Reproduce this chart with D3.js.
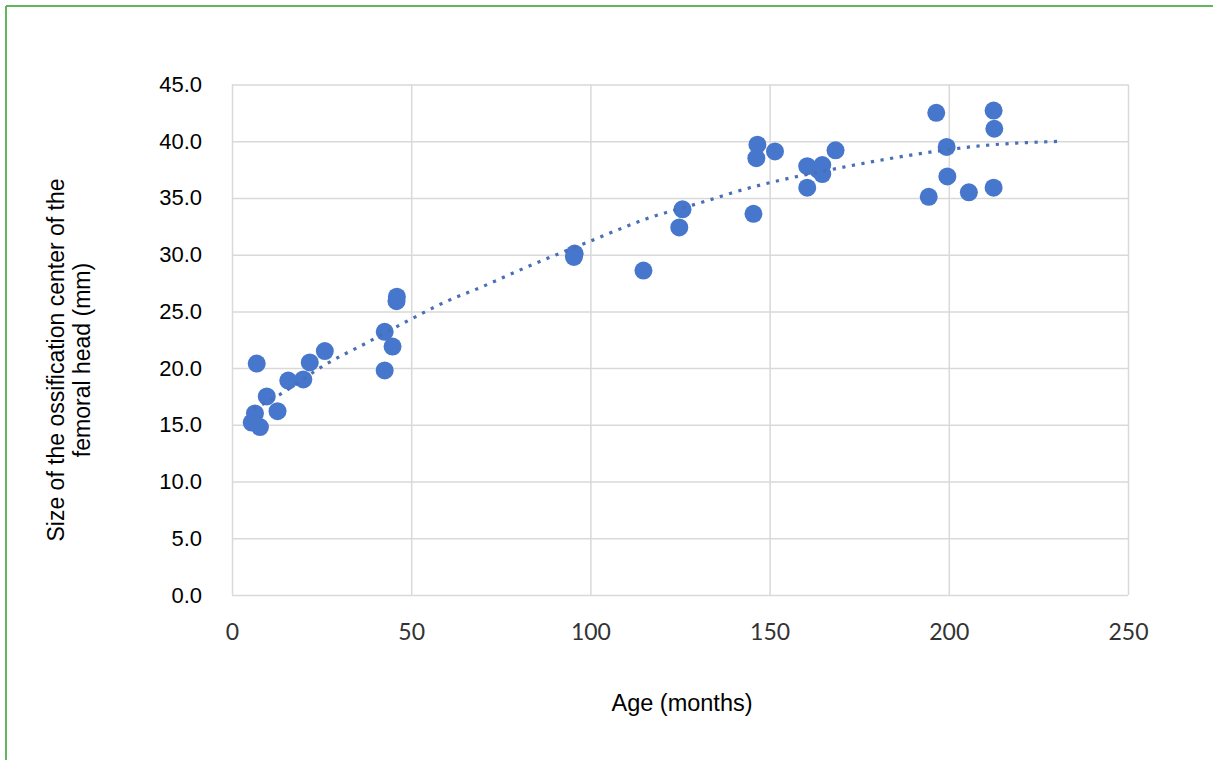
<!DOCTYPE html>
<html>
<head>
<meta charset="utf-8">
<script src="https://cdn.jsdelivr.net/npm/d3@7"></script>
<style>
  body { margin: 0; background: #fff; }
  svg { display: block; }
</style>
</head>
<body>
<div id="chart"></div>
<script>
// age in months / size of ossification center (mm)
var ageMonths = [5.5, 7.8, 6.4, 6.9, 9.7, 12.7, 15.7, 19.9, 21.7, 25.9,
    42.6, 44.8, 42.6, 45.9, 46.0, 95.4, 95.6, 114.8, 124.8, 125.7,
    145.5, 146.6, 146.3, 151.5, 160.5, 164.7, 164.7, 163.5, 160.5, 168.4,
    194.4, 196.5, 199.4, 199.6, 205.6, 212.5, 212.7, 212.5];
var sizeMm = [15.2, 14.8, 16.0, 20.4, 17.5, 16.2, 18.9, 19.0, 20.5, 21.5,
    23.2, 21.9, 19.8, 25.9, 26.3, 29.8, 30.1, 28.6, 32.4, 34.0,
    33.6, 39.7, 38.5, 39.1, 37.8, 37.9, 37.1, 37.5, 35.9, 39.2,
    35.1, 42.5, 39.5, 36.9, 35.5, 42.7, 41.1, 35.9];

// trendline
var trendX = [6, 13, 26, 38, 48, 60, 70, 80, 89, 100, 116, 132, 139, 172, 177, 194, 209, 232];
var trendY = [16.4, 17.6, 20.3, 22.3, 24.0, 25.9, 27.2, 28.6, 29.8, 31.2, 33.2, 34.7, 35.4, 37.8, 38.1, 39.0, 39.6, 40.0];

var xTicks = [0, 50, 100, 150, 200, 250];
var yTicks = [0, 5, 10, 15, 20, 25, 30, 35, 40, 45];

var width = 1213, height = 760;
var margin = {left: 232, top: 84.5, right: 85, bottom: 165};

var svg = d3.select('#chart')
    .append('svg')
    .attr('width', width)
    .attr('height', height);

// green frame (only top and left show)
svg.append('line')
    .attr('x1', 6).attr('y1', 6).attr('x2', width).attr('y2', 6)
    .attr('stroke', '#62b65a').attr('stroke-width', 2);
svg.append('line')
    .attr('x1', 6).attr('y1', 6).attr('x2', 6).attr('y2', height)
    .attr('stroke', '#62b65a').attr('stroke-width', 2);

var x = d3.scaleLinear()
    .domain([0, 250])
    .range([margin.left, width - margin.right]);
var y = d3.scaleLinear()
    .domain([0, 45])
    .range([height - margin.bottom, margin.top]);

var pw = x(250) - x(0), ph = y(0) - y(45);

// gridlines
var gx = svg.append('g')
    .attr('transform', `translate(0,${y(0)})`)
    .call(d3.axisBottom(x).tickValues(xTicks).tickSize(-ph).tickFormat(''));
var gy = svg.append('g')
    .attr('transform', `translate(${x(0)},0)`)
    .call(d3.axisLeft(y).tickValues(yTicks).tickSize(-pw).tickFormat(''));
[gx, gy].forEach(function (g) {
    g.select('.domain').remove();
    g.selectAll('.tick line').attr('stroke', '#d9d9d9').attr('stroke-width', 1.5);
});

// tick labels
var yAxis = svg.append('g')
    .attr('transform', `translate(${x(0) - 27},0)`)
    .call(d3.axisLeft(y).tickValues(yTicks).tickSize(0).tickFormat(d3.format('.1f')));
yAxis.select('.domain').remove();
yAxis.selectAll('text')
    .attr('font-family', 'Liberation Sans, Arial, sans-serif')
    .attr('font-size', 22)
    .attr('fill', '#000');

var xAxis = svg.append('g')
    .attr('transform', `translate(0,${y(0) + 26})`)
    .call(d3.axisBottom(x).tickValues(xTicks).tickSize(0));
xAxis.select('.domain').remove();
xAxis.selectAll('text')
    .attr('font-family', 'Lato, Open Sans, sans-serif')
    .attr('font-size', 23)
    .attr('fill', '#333');

// axis titles
svg.append('text')
    .attr('x', (x(0) + x(250)) / 2 + 2)
    .attr('y', 711)
    .attr('text-anchor', 'middle')
    .attr('font-family', 'Liberation Sans, Arial, sans-serif')
    .attr('font-size', 23.5)
    .text('Age (months)');

var yt = svg.append('text')
    .attr('transform', `translate(64,360) rotate(-90)`)
    .attr('text-anchor', 'middle')
    .attr('font-family', 'Liberation Sans, Arial, sans-serif')
    .attr('font-size', 23);
yt.append('tspan').attr('x', 0).attr('dy', 0).text('Size of the ossification center of the');
yt.append('tspan').attr('x', 0).attr('dy', 26).text('femoral head (mm)');

// scatter points
var pts = ageMonths.map(function (d, i) { return {x: d, y: sizeMm[i]}; });
svg.selectAll('circle.pt')
    .data(pts)
    .enter()
    .append('circle')
    .attr('class', 'pt')
    .attr('r', 9)
    .attr('fill', '#4777cc')
    .attr('cx', function (d) { return x(d.x); })
    .attr('cy', function (d) { return y(d.y); });

// dotted trendline
var trend = trendX.map(function (d, i) { return [d, trendY[i]]; });
svg.append('path')
    .datum(trend)
    .attr('fill', 'none')
    .attr('stroke', '#4a6fb5')
    .attr('stroke-width', 3.2)
    .attr('stroke-dasharray', '3.2,6.5')
    .attr('d', d3.line()
        .x(function (d) { return x(d[0]); })
        .y(function (d) { return y(d[1]); })
        .curve(d3.curveMonotoneX));
</script>
</body>
</html>
